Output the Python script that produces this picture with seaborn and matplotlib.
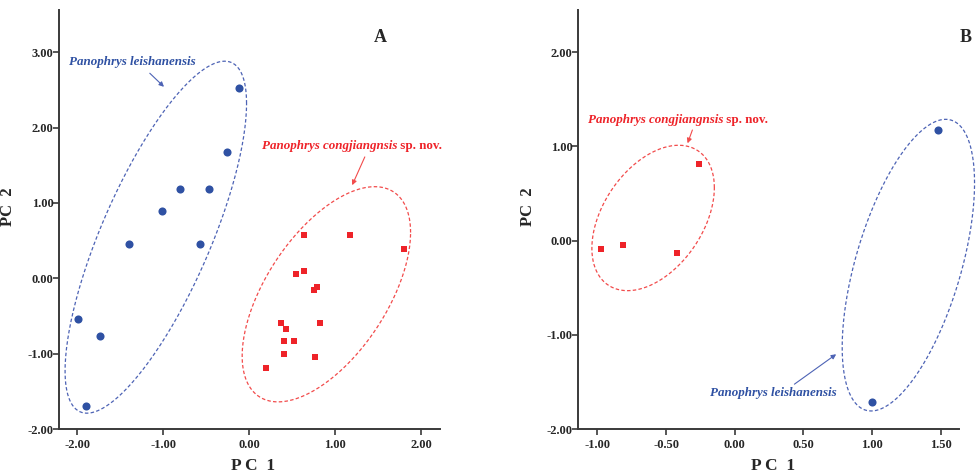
import numpy as np
import pandas as pd
import seaborn as sns
import matplotlib.pyplot as plt
from matplotlib.ticker import FormatStrFormatter, MultipleLocator

sns.set_style("ticks")
plt.rcParams['font.family'] = ['Liberation Serif', 'DejaVu Serif']
plt.rcParams['font.weight'] = 'bold'
plt.rcParams['axes.unicode_minus'] = False

BLUE = '#2f51a3'
RED = '#ee2329'
BLUE_LINE = '#4d63b5'
RED_LINE = '#f24b4b'
AXIS_COL = '#3a3a3a'

LEISH = 'Panophrys leishanensis'
CONG = 'Panophrys congjiangnsis'

# panel A scores
a_leish_pc1 = [-0.12, -0.26, -0.80, -0.47, -1.01, -1.40, -0.57, -1.99, -1.73, -1.90]
a_leish_pc2 = [2.53, 1.68, 1.18, 1.19, 0.89, 0.45, 0.45, -0.54, -0.76, -1.70]
a_cong_pc1 = [0.64, 1.17, 1.80, 0.54, 0.64, 0.75, 0.79, 0.37, 0.43, 0.82, 0.40, 0.52, 0.40, 0.77, 0.20]
a_cong_pc2 = [0.57, 0.57, 0.39, 0.05, 0.10, -0.15, -0.12, -0.59, -0.67, -0.60, -0.83, -0.83, -1.01, -1.04, -1.19]

# panel B scores
b_leish_pc1 = [1.48, 1.00]
b_leish_pc2 = [1.18, -1.71]
b_cong_pc1 = [-0.26, -0.97, -0.81, -0.42]
b_cong_pc2 = [0.81, -0.09, -0.05, -0.13]

# hand drawn ellipses: centre x, centre y, half extent x, half extent y, cross term
ELL_A_LEISH = (-1.085, 0.545, 1.055, 2.335, 1.87)
ELL_A_CONG = (0.898, -0.2125, 0.979, 1.4275, 0.802)
ELL_B_CONG = (-0.594, 0.241, 0.446, 0.772, 0.1436)
ELL_B_LEISH = (1.265, -0.26, 0.482, 1.5485, 0.42)


def make_df(l1, l2, c1, c2):
	return pd.DataFrame({
		'PC1': l1 + c1,
		'PC2': l2 + c2,
		'species': [LEISH] * len(l1) + [CONG] * len(c1),
	})


def draw_ellipse(ax, params, color):
	cx, cy, sx, sy, sxy = params
	S = np.array([[sx ** 2, sxy], [sxy, sy ** 2]])
	L = np.linalg.cholesky(S)
	t = np.linspace(0, 2 * np.pi, 300)
	pts = L @ np.vstack([np.cos(t), np.sin(t)])
	ax.plot(cx + pts[0], cy + pts[1], ls=(0, (2.8, 1.8)), lw=0.9, color=color, clip_on=False, zorder=1)


def draw_points(ax, df):
	sns.scatterplot(data=df[df.species == LEISH], x='PC1', y='PC2', color=BLUE, marker='o',
					s=34, linewidth=0, ax=ax, zorder=3, clip_on=False)
	sns.scatterplot(data=df[df.species == CONG], x='PC1', y='PC2', color=RED, marker='s',
					s=22, linewidth=0, ax=ax, zorder=3, clip_on=False)


def species_label(ax, x, y, color, nov=False):
	t = ax.text(x, y, LEISH if not nov else CONG, color=color, style='italic', weight='bold',
				fontsize=9.4, va='baseline', ha='left')
	if nov:
		ax.annotate(' sp. nov.', xy=(1, 0), xycoords=t, color=color, weight='bold',
					fontsize=9.4, va='bottom', ha='left')
	return t


def arrow(ax, start, end, color):
	ax.annotate('', xy=end, xytext=start,
				arrowprops=dict(arrowstyle='-|>', color=color, lw=0.8, mutation_scale=7,
								shrinkA=0, shrinkB=0))


def style_axes(ax, xlim, ylim, xstep, ystep):
	ax.set_xlim(*xlim)
	ax.set_ylim(*ylim)
	ax.xaxis.set_major_locator(MultipleLocator(xstep))
	ax.yaxis.set_major_locator(MultipleLocator(ystep))
	ax.xaxis.set_major_formatter(FormatStrFormatter('%.2f'))
	ax.yaxis.set_major_formatter(FormatStrFormatter('%.2f'))
	sns.despine(ax=ax)
	for s in ['left', 'bottom']:
		ax.spines[s].set_color(AXIS_COL)
		ax.spines[s].set_linewidth(1.4)
	ax.tick_params(axis='both', length=4, width=1.2, color=AXIS_COL, labelsize=9)
	ax.tick_params(axis='y', pad=0)
	ax.tick_params(axis='x', pad=3)
	for lab in ax.get_xticklabels() + ax.get_yticklabels():
		lab.set_fontweight('bold')
	ax.set_xlabel('P C  1', fontsize=12.5, weight='bold')
	ax.set_ylabel('PC  2', fontsize=12, weight='bold')
	ax.xaxis.set_label_coords(0.51, -0.07)
	ax.yaxis.set_label_coords(-0.112, 0.53)


fig = plt.figure(figsize=(9.76, 4.73), dpi=100)
ax_a = fig.add_axes([0.0605, 0.093, 0.3904, 0.886])
ax_b = fig.add_axes([0.5925, 0.093, 0.3904, 0.886])

# panel A
df_a = make_df(a_leish_pc1, a_leish_pc2, a_cong_pc1, a_cong_pc2)
draw_ellipse(ax_a, ELL_A_LEISH, BLUE_LINE)
draw_ellipse(ax_a, ELL_A_CONG, RED_LINE)
draw_points(ax_a, df_a)
style_axes(ax_a, (-2.21, 2.22), (-2.0, 3.56), 1.0, 1.0)
species_label(ax_a, -2.10, 2.83, BLUE)
arrow(ax_a, (-1.155, 2.72), (-0.99, 2.54), BLUE_LINE)
species_label(ax_a, 0.144, 1.72, RED, nov=True)
arrow(ax_a, (1.345, 1.61), (1.198, 1.235), RED_LINE)
ax_a.text(1.52, 3.20, 'A', fontsize=13, weight='bold', ha='center', va='center')

# panel B
df_b = make_df(b_leish_pc1, b_leish_pc2, b_cong_pc1, b_cong_pc2)
draw_ellipse(ax_b, ELL_B_CONG, RED_LINE)
draw_ellipse(ax_b, ELL_B_LEISH, BLUE_LINE)
draw_points(ax_b, df_b)
style_axes(ax_b, (-1.139, 1.636), (-2.0, 2.45), 0.5, 1.0)
species_label(ax_b, -1.069, 1.25, RED, nov=True)
arrow(ax_b, (-0.308, 1.175), (-0.343, 1.034), RED_LINE)
species_label(ax_b, -0.177, -1.65, BLUE)
arrow(ax_b, (0.435, -1.524), (0.739, -1.206), BLUE_LINE)
ax_b.text(1.68, 2.16, 'B', fontsize=13, weight='bold', ha='center', va='center')

fig.savefig('out.png', dpi=100)
